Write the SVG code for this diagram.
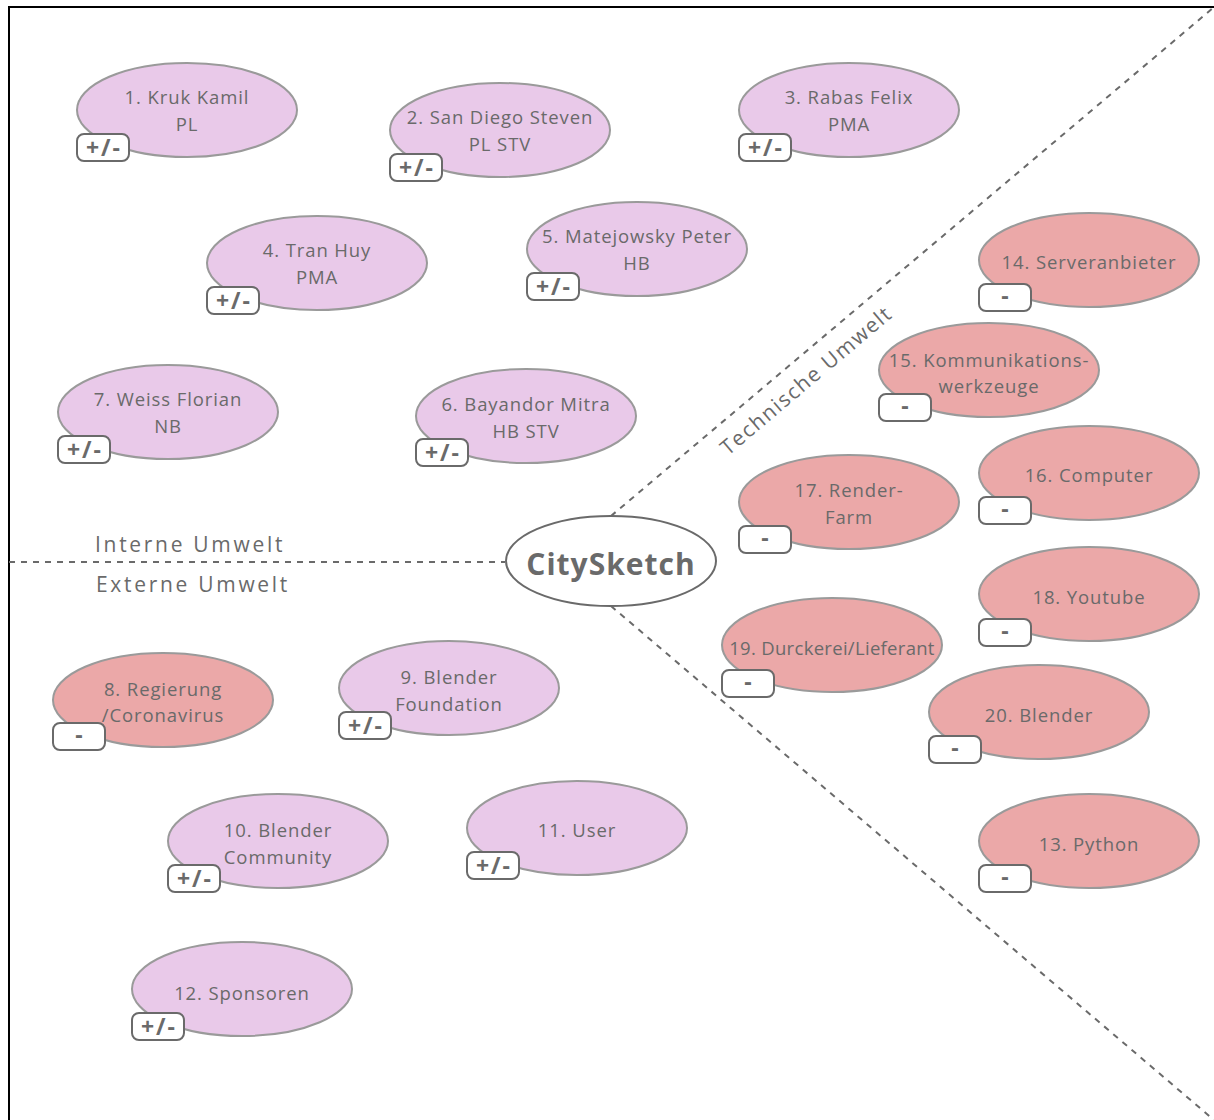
<svg xmlns="http://www.w3.org/2000/svg" width="1214" height="1120" viewBox="0 0 1214 1120">
<style>
.e{stroke:#9a9a9a;stroke-width:2}
.p{fill:#e9c9e9}
.r{fill:#eba8a8}
.t{font-family:"Open Sans",sans-serif;font-size:18.5px;fill:#6a6a6a;text-anchor:middle;letter-spacing:0.9px}
.b{fill:#fff;stroke:#6a6a6a;stroke-width:2}
.bt{font-family:"Open Sans",sans-serif;font-size:23px;font-weight:bold;fill:#6a6a6a;text-anchor:middle;letter-spacing:2px}
.d{stroke:#6a6a6a;stroke-width:2;stroke-dasharray:6 6;fill:none}
.l{font-family:"Open Sans",sans-serif;font-size:21px;fill:#6a6a6a;letter-spacing:2.7px}
</style>
<rect x="0" y="0" width="1214" height="1120" fill="#fff"/>
<path d="M9,1120 V7 H1214" fill="none" stroke="#000" stroke-width="2"/>
<g id="connectors">
<line class="d" x1="9" y1="562" x2="505" y2="562"/>
<line class="d" x1="611" y1="516" x2="1213" y2="8"/>
<line class="d" x1="611" y1="606" x2="1214" y2="1120"/>
</g>
<g id="labels">
<text class="l" x="95" y="552">Interne Umwelt</text>
<text class="l" x="96" y="592">Externe Umwelt</text>
<text class="l" transform="translate(811,386) rotate(-40.2)" text-anchor="middle" style="letter-spacing:1.6px">Technische Umwelt</text>
</g>
<g id="center"><ellipse cx="611" cy="561" rx="105" ry="45" fill="#fff" stroke="#6a6a6a" stroke-width="2"/><text x="611" y="575" font-family="Open Sans,sans-serif" font-size="30" font-weight="bold" fill="#6a6a6a" text-anchor="middle" letter-spacing="1">CitySketch</text></g>
<g id="n1"><ellipse class="e p" cx="187" cy="110" rx="110" ry="47"/><text class="t" x="187" y="104">1. Kruk Kamil</text><text class="t" x="187" y="131">PL</text><rect class="b" x="77" y="134" width="52" height="27" rx="7"/><text class="bt" x="104" y="156">+/-</text></g>
<g id="n2"><ellipse class="e p" cx="500" cy="130" rx="110" ry="47"/><text class="t" x="500" y="124">2. San Diego Steven</text><text class="t" x="500" y="151">PL STV</text><rect class="b" x="390" y="154" width="52" height="27" rx="7"/><text class="bt" x="417" y="176">+/-</text></g>
<g id="n3"><ellipse class="e p" cx="849" cy="110" rx="110" ry="47"/><text class="t" x="849" y="104">3. Rabas Felix</text><text class="t" x="849" y="131">PMA</text><rect class="b" x="739" y="134" width="52" height="27" rx="7"/><text class="bt" x="766" y="156">+/-</text></g>
<g id="n4"><ellipse class="e p" cx="317" cy="263" rx="110" ry="47"/><text class="t" x="317" y="257">4. Tran Huy</text><text class="t" x="317" y="284">PMA</text><rect class="b" x="207" y="287" width="52" height="27" rx="7"/><text class="bt" x="234" y="309">+/-</text></g>
<g id="n5"><ellipse class="e p" cx="637" cy="249" rx="110" ry="47"/><text class="t" x="637" y="243">5. Matejowsky Peter</text><text class="t" x="637" y="270">HB</text><rect class="b" x="527" y="273" width="52" height="27" rx="7"/><text class="bt" x="554" y="295">+/-</text></g>
<g id="n7"><ellipse class="e p" cx="168" cy="412" rx="110" ry="47"/><text class="t" x="168" y="406">7. Weiss Florian</text><text class="t" x="168" y="433">NB</text><rect class="b" x="58" y="436" width="52" height="27" rx="7"/><text class="bt" x="85" y="458">+/-</text></g>
<g id="n6"><ellipse class="e p" cx="526" cy="416" rx="110" ry="47"/><text class="t" x="526" y="411">6. Bayandor Mitra</text><text class="t" x="526" y="438">HB STV</text><rect class="b" x="416" y="439" width="52" height="27" rx="7"/><text class="bt" x="443" y="461">+/-</text></g>
<g id="n8"><ellipse class="e r" cx="163" cy="700" rx="110" ry="47"/><text class="t" x="163" y="696">8. Regierung</text><text class="t" x="163" y="722">/Coronavirus</text><rect class="b" x="53" y="723" width="52" height="27" rx="7"/><text class="bt" x="80" y="743">-</text></g>
<g id="n9"><ellipse class="e p" cx="449" cy="688" rx="110" ry="47"/><text class="t" x="449" y="684">9. Blender</text><text class="t" x="449" y="711">Foundation</text><rect class="b" x="339" y="712" width="52" height="27" rx="7"/><text class="bt" x="366" y="734">+/-</text></g>
<g id="n10"><ellipse class="e p" cx="278" cy="841" rx="110" ry="47"/><text class="t" x="278" y="837">10. Blender</text><text class="t" x="278" y="864">Community</text><rect class="b" x="168" y="865" width="52" height="27" rx="7"/><text class="bt" x="195" y="887">+/-</text></g>
<g id="n11"><ellipse class="e p" cx="577" cy="828" rx="110" ry="47"/><text class="t" x="577" y="837">11. User</text><rect class="b" x="467" y="852" width="52" height="27" rx="7"/><text class="bt" x="494" y="874">+/-</text></g>
<g id="n12"><ellipse class="e p" cx="242" cy="989" rx="110" ry="47"/><text class="t" x="242" y="1000">12. Sponsoren</text><rect class="b" x="132" y="1013" width="52" height="27" rx="7"/><text class="bt" x="159" y="1035">+/-</text></g>
<g id="n14"><ellipse class="e r" cx="1089" cy="260" rx="110" ry="47"/><text class="t" x="1089" y="269">14. Serveranbieter</text><rect class="b" x="979" y="284" width="52" height="27" rx="7"/><text class="bt" x="1006" y="304">-</text></g>
<g id="n15"><ellipse class="e r" cx="989" cy="370" rx="110" ry="47"/><text class="t" x="989" y="367">15. Kommunikations-</text><text class="t" x="989" y="393">werkzeuge</text><rect class="b" x="879" y="394" width="52" height="27" rx="7"/><text class="bt" x="906" y="414">-</text></g>
<g id="n16"><ellipse class="e r" cx="1089" cy="473" rx="110" ry="47"/><text class="t" x="1089" y="482">16. Computer</text><rect class="b" x="979" y="497" width="52" height="27" rx="7"/><text class="bt" x="1006" y="517">-</text></g>
<g id="n17"><ellipse class="e r" cx="849" cy="502" rx="110" ry="47"/><text class="t" x="849" y="497">17. Render-</text><text class="t" x="849" y="524">Farm</text><rect class="b" x="739" y="526" width="52" height="27" rx="7"/><text class="bt" x="766" y="546">-</text></g>
<g id="n18"><ellipse class="e r" cx="1089" cy="594" rx="110" ry="47"/><text class="t" x="1089" y="604">18. Youtube</text><rect class="b" x="979" y="619" width="52" height="27" rx="7"/><text class="bt" x="1006" y="639">-</text></g>
<g id="n19"><ellipse class="e r" cx="832" cy="645" rx="110" ry="47"/><text class="t" x="832" y="655" style="letter-spacing:0.3px">19. Durckerei/Lieferant</text><rect class="b" x="722" y="670" width="52" height="27" rx="7"/><text class="bt" x="749" y="690">-</text></g>
<g id="n20"><ellipse class="e r" cx="1039" cy="712" rx="110" ry="47"/><text class="t" x="1039" y="722">20. Blender</text><rect class="b" x="929" y="736" width="52" height="27" rx="7"/><text class="bt" x="956" y="756">-</text></g>
<g id="n13"><ellipse class="e r" cx="1089" cy="841" rx="110" ry="47"/><text class="t" x="1089" y="851">13. Python</text><rect class="b" x="979" y="865" width="52" height="27" rx="7"/><text class="bt" x="1006" y="885">-</text></g>
</svg>
